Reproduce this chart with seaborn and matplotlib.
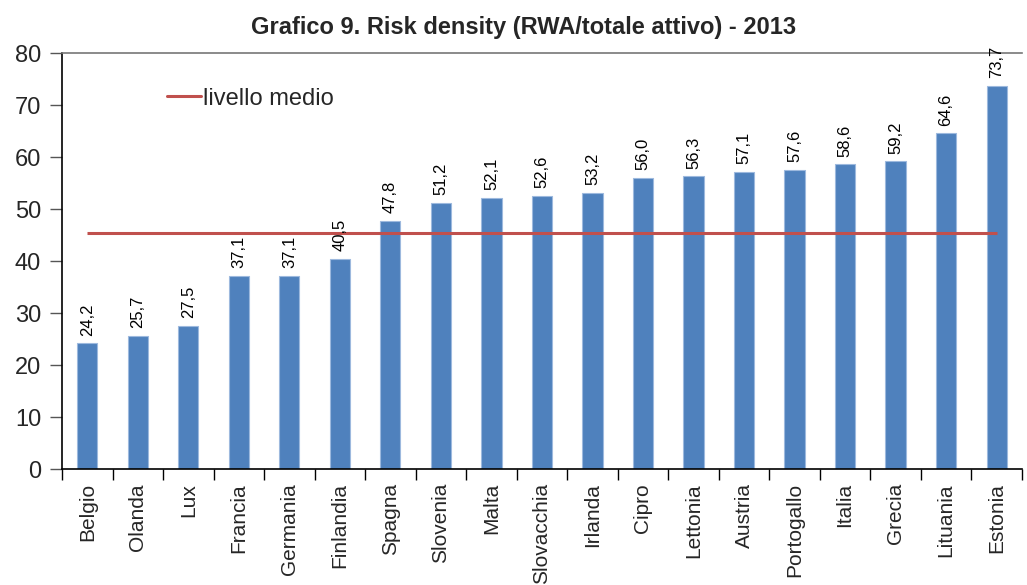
import numpy as np
import pandas as pd
import matplotlib
matplotlib.use("Agg")
import matplotlib.pyplot as plt
import seaborn as sns

# dati
paesi = ["Belgio", "Olanda", "Lux", "Francia", "Germania", "Finlandia", "Spagna",
         "Slovenia", "Malta", "Slovacchia", "Irlanda", "Cipro", "Lettonia", "Austria",
         "Portogallo", "Italia", "Grecia", "Lituania", "Estonia"]
risk_density = [24.2, 25.7, 27.5, 37.1, 37.1, 40.5, 47.8, 51.2, 52.1, 52.6, 53.2,
                56.0, 56.3, 57.1, 57.6, 58.6, 59.2, 64.6, 73.7]
livello_medio = 45.4

titolo = "Grafico 9. Risk density (RWA/totale attivo) - 2013"

sns.set_style("white")
plt.rcParams["font.family"] = ["Liberation Sans", "DejaVu Sans"]

df = pd.DataFrame({"paese": paesi, "valore": risk_density})

fig = plt.figure(figsize=(10.27, 5.85), dpi=100)
ax = fig.add_axes([0.0604, 0.198, 0.9346, 0.711])

sns.barplot(data=df, x="paese", y="valore", color="#4F81BD", width=0.4,
            edgecolor="#9DB9DE", linewidth=0.8, saturation=1, ax=ax)

# linea del livello medio (dal primo all'ultimo paese)
ax.plot([0, len(paesi) - 1], [livello_medio, livello_medio], color="#C0504D",
        linewidth=2.2, solid_capstyle="butt", zorder=3)

# etichette dei valori
for i, v in enumerate(risk_density):
    ax.text(i, v + 1.5, f"{v:.1f}".replace(".", ","), rotation=90,
            ha="center", va="bottom", fontsize=12, color="black")

ax.set_ylim(0, 80)
ax.set_xlim(-0.5, len(paesi) - 0.5)
ax.set_yticks(range(0, 81, 10))
ax.tick_params(axis="y", labelsize=17, length=9, width=1, direction="out",
               left=True, color="#555555", pad=6)
ax.set_xticks(range(len(paesi)))
ax.set_xticklabels(paesi, rotation=90, fontsize=15)
ax.tick_params(axis="x", which="major", length=0, pad=10)
ax.set_xticks(np.arange(-0.5, len(paesi), 1), minor=True)
ax.tick_params(axis="x", which="minor", length=8, width=1, direction="out",
               bottom=True, color="black")
ax.set_xlabel("")
ax.set_ylabel("")

for s in ["left", "bottom"]:
    ax.spines[s].set_color("black")
    ax.spines[s].set_linewidth(1.2)
ax.spines["top"].set_color("#777777")
ax.spines["top"].set_linewidth(1.2)
ax.spines["right"].set_visible(False)

# legenda
ax.plot([], [], color="#C0504D", linewidth=2.2, label="livello medio")
ax.legend(loc="upper left", bbox_to_anchor=(0.1, 0.94), frameon=False,
          fontsize=17, handlelength=1.4, handletextpad=0.1, borderaxespad=0)

fig.suptitle(titolo, x=0.51, y=0.972, fontsize=17, fontweight="bold")

fig.savefig("out.png", dpi=100)
